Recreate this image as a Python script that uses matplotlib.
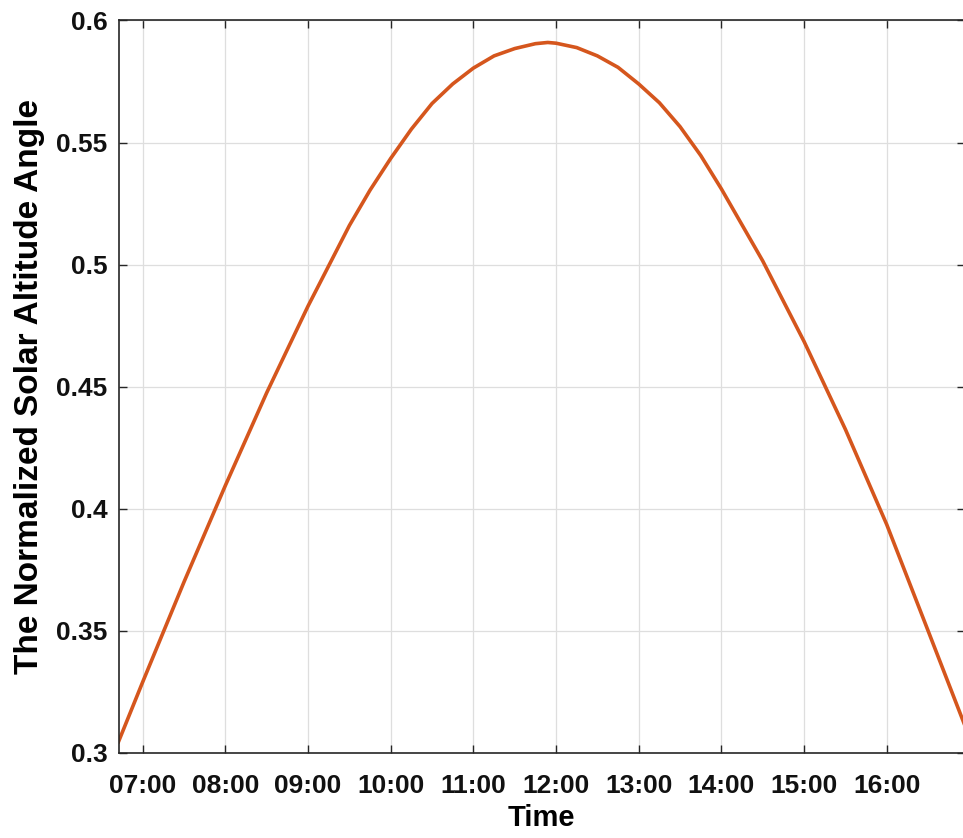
import matplotlib
matplotlib.use("Agg")
import matplotlib.pyplot as plt

# values (time in decimal hours)
hours = [6.707, 7.0, 7.5, 8.0, 8.5, 9.0, 9.5, 9.75, 10.0, 10.25, 10.5, 10.75, 11.0,
         11.25, 11.5, 11.75, 11.9, 12.0, 12.25, 12.5, 12.75, 13.0, 13.25, 13.5,
         13.75, 14.0, 14.5, 15.0, 15.5, 16.0, 16.5, 16.947]
altitude = [0.3045, 0.329, 0.370, 0.4095, 0.4475, 0.483, 0.516, 0.5305, 0.5435, 0.5555,
            0.566, 0.574, 0.5805, 0.5855, 0.5885, 0.5905, 0.591, 0.5907, 0.5889, 0.5855,
            0.5808, 0.574, 0.5663, 0.5565, 0.5447, 0.531, 0.5015, 0.4685, 0.4325, 0.3935,
            0.350, 0.311]

x_ticks = [7, 8, 9, 10, 11, 12, 13, 14, 15, 16]
x_tick_labels = ["07:00", "08:00", "09:00", "10:00", "11:00",
                 "12:00", "13:00", "14:00", "15:00", "16:00"]
y_ticks = [0.3, 0.35, 0.4, 0.45, 0.5, 0.55, 0.6]
y_tick_labels = ["0.3", "0.35", "0.4", "0.45", "0.5", "0.55", "0.6"]

plt.rcParams.update({
    "font.family": ["Liberation Sans", "DejaVu Sans"],
    "font.weight": "bold",
})

W, H = 963, 838
fig = plt.figure(figsize=(W / 100, H / 100), dpi=100)
# axes box in pixels: left 118.5, right 965 (just past the crop), top 20.5, bottom 752.7
ax = fig.add_axes([118.5 / W, (H - 752.7) / H, (965 - 118.5) / W, (752.7 - 20.5) / H])

ax.plot(hours, altitude, color="#D5561D", lw=2.6, solid_joinstyle="round")

ax.set_xlim(6.707, 16.947)
ax.set_ylim(0.3, 0.6)
ax.set_xticks(x_ticks)
ax.set_xticklabels(x_tick_labels)
ax.set_yticks(y_ticks)
ax.set_yticklabels(y_tick_labels)

ax.grid(True, color="#dedede", lw=0.9)
ax.set_axisbelow(True)
for s in ax.spines.values():
    s.set_color("#262626")
    s.set_linewidth(1.2)
ax.tick_params(direction="in", length=5.5, width=1.0, color="#262626",
               top=True, right=True, labelsize=19, labelcolor="#111111")
ax.tick_params(axis="x", pad=15)
ax.tick_params(axis="y", pad=8)

ax.set_xlabel("Time", fontsize=21, fontweight="bold", labelpad=5)
ax.set_ylabel("The Normalized Solar Altitude Angle", fontsize=24, fontweight="bold", labelpad=8)

fig.savefig("out.png", dpi=100)
